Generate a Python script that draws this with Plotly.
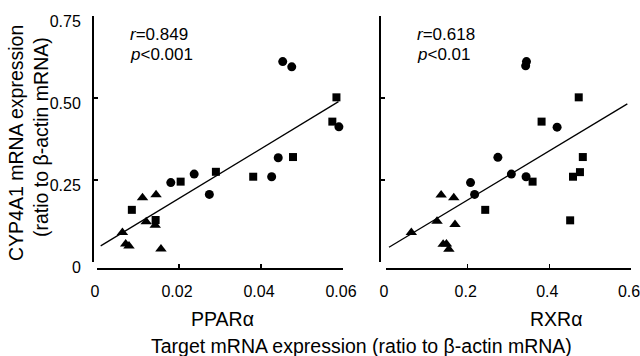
import plotly.graph_objects as go

W, H = 640, 356
FONT = "Liberation Sans, Arial, sans-serif"

# ---------------- data: PPARalpha panel ----------------
ppar_circle_x = [0.0453, 0.0475, 0.0590, 0.0442, 0.0426, 0.0274, 0.0237, 0.0180]
ppar_circle_y = [0.611, 0.595, 0.412, 0.318, 0.260, 0.206, 0.268, 0.242]
ppar_square_x = [0.0584, 0.0574, 0.0478, 0.0381, 0.0290, 0.0204, 0.0085, 0.0143]
ppar_square_y = [0.502, 0.428, 0.320, 0.260, 0.275, 0.245, 0.159, 0.128]
ppar_tri_x = [0.0111, 0.0144, 0.0120, 0.0142, 0.0062, 0.0070, 0.0078, 0.0156]
ppar_tri_y = [0.196, 0.205, 0.123, 0.112, 0.090, 0.055, 0.049, 0.040]
ppar_fit_x = [0.0009, 0.0589]
ppar_fit_y = [0.049, 0.489]

# ---------------- data: RXRalpha panel ----------------
rxr_circle_x = [0.344, 0.342, 0.419, 0.274, 0.307, 0.343, 0.207, 0.217]
rxr_circle_y = [0.611, 0.598, 0.411, 0.319, 0.268, 0.260, 0.242, 0.206]
rxr_square_x = [0.472, 0.381, 0.482, 0.475, 0.458, 0.359, 0.243, 0.451]
rxr_square_y = [0.502, 0.428, 0.320, 0.274, 0.260, 0.245, 0.159, 0.127]
rxr_tri_x = [0.135, 0.166, 0.125, 0.169, 0.062, 0.140, 0.148, 0.154]
rxr_tri_y = [0.204, 0.196, 0.124, 0.114, 0.090, 0.054, 0.055, 0.039]
rxr_fit_x = [0.0073, 0.591]
rxr_fit_y = [0.045, 0.482]

y_ticks = [0, 0.25, 0.5, 0.75]
y_ticktext = ["0", "0.25", "0.50", "0.75"]
ppar_ticks = [0, 0.02, 0.04, 0.06]
ppar_ticktext = ["0", "0.02", "0.04", "0.06"]
rxr_ticks = [0, 0.2, 0.4, 0.6]
rxr_ticktext = ["0", "0.2", "0.4", "0.6"]

stats_left = ["<i>r</i>=0.849", "<i>p</i>&lt;0.001"]
stats_right = ["<i>r</i>=0.618", "<i>p</i>&lt;0.01"]

# ---------------- geometry helpers (pixels -> paper) ----------------
def px(x):
    return x / W

def py(y):
    return (H - y) / H

fig = go.Figure()

def add_panel(xa, ya, cx, cy, sx, sy, tx, ty, fx, fy):
    kw = dict(xaxis=xa, yaxis=ya, showlegend=False, cliponaxis=False,
              hoverinfo="skip")
    fig.add_trace(go.Scatter(x=fx, y=fy, mode="lines",
                             line=dict(color="black", width=1.3), **kw))
    fig.add_trace(go.Scatter(x=cx, y=cy, mode="markers",
                             marker=dict(symbol="circle", size=9, color="black"), **kw))
    fig.add_trace(go.Scatter(x=sx, y=sy, mode="markers",
                             marker=dict(symbol="square", size=8, color="black"), **kw))
    fig.add_trace(go.Scatter(x=tx, y=ty, mode="markers",
                             marker=dict(symbol="triangle-up", size=10, color="black"), **kw))

add_panel("x", "y", ppar_circle_x, ppar_circle_y, ppar_square_x, ppar_square_y,
          ppar_tri_x, ppar_tri_y, ppar_fit_x, ppar_fit_y)
add_panel("x2", "y2", rxr_circle_x, rxr_circle_y, rxr_square_x, rxr_square_y,
          rxr_tri_x, rxr_tri_y, rxr_fit_x, rxr_fit_y)

axis_common = dict(showline=True, linecolor="black", linewidth=1.5,
                   ticks="inside", ticklen=4, tickwidth=1.5, tickcolor="black",
                   showgrid=False, zeroline=False, automargin=False,
                   ticklabeloverflow="allow",
                   tickfont=dict(family=FONT, size=16, color="black"))

y_dom = [py(262), py(16)]
fig.update_layout(
    template="none",
    width=W, height=H, autosize=False,
    margin=dict(l=0, r=0, t=0, b=0, pad=0),
    paper_bgcolor="white", plot_bgcolor="white",
    showlegend=False,
    font=dict(family=FONT, color="black"),
    xaxis=dict(domain=[px(97), px(343)], range=[0, 0.06], anchor="free",
               position=py(268), tickmode="array", tickvals=ppar_ticks,
               ticktext=ppar_ticktext, ticklabelstandoff=8, ticklabelshift=-2,
               **axis_common),
    yaxis=dict(domain=y_dom, range=[0, 0.75], anchor="free", position=px(92),
               tickmode="array", tickvals=y_ticks, ticktext=y_ticktext,
               ticklabelstandoff=8, ticklabelshift=5, **axis_common),
    xaxis2=dict(domain=[px(386), px(631)], range=[0, 0.6], anchor="free",
                position=py(268), tickmode="array", tickvals=rxr_ticks,
                ticktext=rxr_ticktext, ticklabelstandoff=8, ticklabelshift=-2,
                **axis_common),
    yaxis2=dict(domain=y_dom, range=[0, 0.75], anchor="free", position=px(379),
                tickmode="array", tickvals=y_ticks, showticklabels=False,
                **axis_common),
)

ann = []
def text(x, y, s, size, xanchor="center", angle=0):
    ann.append(dict(x=px(x), y=py(y), xref="paper", yref="paper", text=s,
                    showarrow=False, xanchor=xanchor, yanchor="middle",
                    textangle=angle,
                    font=dict(family=FONT, size=size, color="black")))

text(128, 35, stats_left[0], 17, "left")
text(128, 55, stats_left[1], 17, "left")
text(415, 35, stats_right[0], 17, "left")
text(415, 55, stats_right[1], 17, "left")
text(222, 319, "PPARα", 19.5)
text(556, 319, "RXRα", 19.5)
text(361, 346, "Target mRNA expression (ratio to β-actin mRNA)", 19.5)
text(16, 143, "CYP4A1 mRNA expression", 19.5, angle=-90)
text(41, 137, "(ratio to β-actin mRNA)", 19.5, angle=-90)
fig.update_layout(annotations=ann)

fig.write_html("out.html",
               config={"displayModeBar": False, "staticPlot": True},
               post_script="document.body.style.margin='0';"
                           "document.body.style.overflow='hidden';")
